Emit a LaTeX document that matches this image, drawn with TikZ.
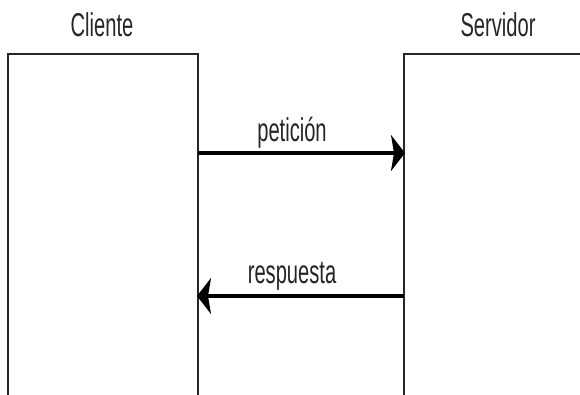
\documentclass[tikz,border=0pt]{standalone}
\usepackage{fontspec}
\newfontfamily\condfont[FakeStretch=0.61]{Liberation Sans}
\usetikzlibrary{arrows.meta}
\begin{document}
\begin{tikzpicture}[x=1pt,y=-1pt,
  lbl/.style={font=\condfont\fontsize{33}{36}\selectfont, inner sep=0pt, anchor=base, text=black!85},
  box/.style={draw=black!85, line width=1.6pt},
  msg/.style={draw=black, line width=4pt, -{Stealth[length=14pt,width=36pt,inset=3pt]}}]
\useasboundingbox (0,0) rectangle (580,395);
\clip (0,0) rectangle (580,395);
\fill[white] (0,0) rectangle (580,395);
\draw[box] (8,420) -- (8,54) -- (198,54) -- (198,420);
\draw[box] (404,420) -- (404,54) -- (600,54);
\coordinate (c1) at (198,153);
\coordinate (s1) at (405,153);
\coordinate (s2) at (404,296);
\coordinate (c2) at (197,296);
\node[lbl] (cl) at (102,37) {Cliente};
\node[lbl] (sv) at (498,37) {Servidor};
\node[lbl] (pt) at (292,142) {petición};
\node[lbl] (rs) at (292,283) {respuesta};
\draw[msg] (c1) -- (s1);
\draw[msg] (s2) -- (c2);
\end{tikzpicture}
\end{document}
